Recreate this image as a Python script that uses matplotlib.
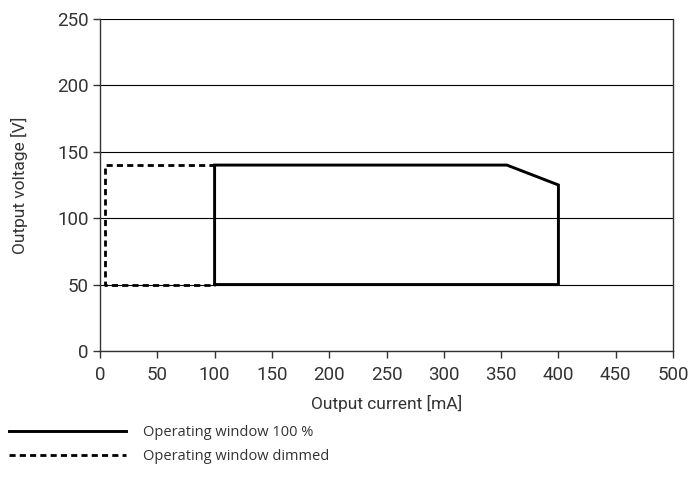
import matplotlib
matplotlib.use('Agg')
import matplotlib.pyplot as plt

# operating window 100 % (current mA, voltage V)
full_current = [100, 100, 355, 400, 400, 100]
full_voltage = [50, 140, 140, 125, 50, 50]

# operating window dimmed
dim_current = [100, 4, 4, 100]
dim_voltage = [140, 140, 50, 50]

xticks = [0, 50, 100, 150, 200, 250, 300, 350, 400, 450, 500]
yticks = [0, 50, 100, 150, 200, 250]

plt.rcParams['font.family'] = ['Roboto', 'DejaVu Sans']

fig = plt.figure(figsize=(6.91, 4.95), dpi=100)
ax = fig.add_axes([0.1447, 0.291, 0.974 - 0.1447, 0.9616 - 0.291])

ax.set_xlim(0, 500)
ax.set_ylim(0, 250)
ax.set_xticks(xticks)
ax.set_yticks(yticks)
ax.yaxis.grid(True, color='black', linewidth=0.8)
ax.set_axisbelow(True)

l1, = ax.plot(full_current, full_voltage, color='black', linewidth=2.1,
              solid_joinstyle='miter', zorder=3)
l2, = ax.plot(dim_current, dim_voltage, color='black', linewidth=2.0,
              dashes=(2.2, 1.5), zorder=3)

for s in ax.spines.values():
    s.set_color('#333333')
    s.set_linewidth(1.0)
ax.spines['top'].set_visible(False)

ax.tick_params(axis='both', length=5, width=1, color='#333333',
               labelsize=13.5, labelcolor='#333333', pad=3)
ax.tick_params(axis='x', pad=6)
ax.set_xlabel('Output current [mA]', fontsize=12.5, color='#333333', labelpad=8)
ax.set_ylabel('Output voltage [V]', fontsize=12.5, color='#333333', labelpad=21)

fig.legend([l1, l2], ['Operating window 100 %', 'Operating window dimmed'],
           loc='upper left', bbox_to_anchor=(-0.006, 0.168), frameon=False,
           handlelength=8.0, handletextpad=1.2, labelspacing=0.6,
           prop={'family': ['Open Sans', 'DejaVu Sans'], 'size': 10.5},
           labelcolor='#333333')

fig.savefig('out.png', dpi=100)
